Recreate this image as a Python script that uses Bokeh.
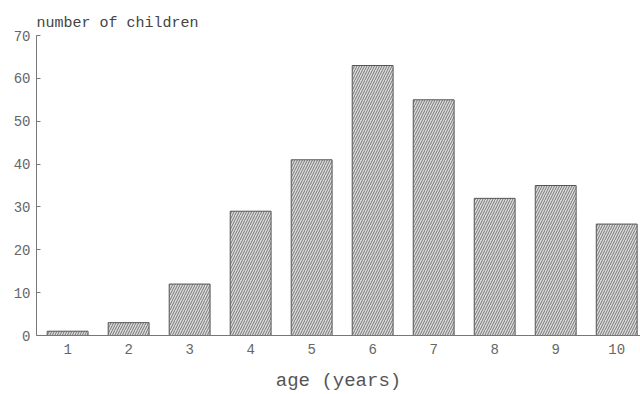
from bokeh.plotting import figure
from bokeh.models import FixedTicker, Range1d
from bokeh.embed import file_html
from bokeh.resources import INLINE

ages = [1, 2, 3, 4, 5, 6, 7, 8, 9, 10]
children = [1, 3, 12, 29, 41, 63, 55, 32, 35, 26]
y_ticks = [0, 10, 20, 30, 40, 50, 60, 70]

FONT = "Liberation Mono"

p = figure(width=640, height=394, output_backend="svg", toolbar_location=None,
           x_range=Range1d(0.49, 10.39), y_range=Range1d(0, 70),
           min_border_left=36, min_border_right=0, min_border_top=35, min_border_bottom=57,
           title="number of children")
p.title.text_font = FONT
p.title.text_font_size = "15px"
p.title.text_font_style = "normal"
p.title.text_color = "#444444"
p.title.align = "left"
p.title.offset = 0
p.title.standoff = 8

p.vbar(x=ages, top=children, width=0.67, bottom=0,
       fill_color="#dcdcdc", line_color="#555555", line_width=1,
       hatch_pattern="/", hatch_color="#6a6a6a", hatch_scale=5, hatch_weight=0.9)

p.outline_line_color = None
p.grid.visible = False
p.background_fill_color = "white"
p.border_fill_color = "white"

p.xaxis.ticker = FixedTicker(ticks=ages)
p.yaxis.ticker = FixedTicker(ticks=y_ticks)
p.xaxis.axis_label = "age (years)"
p.xaxis.axis_label_text_font = FONT
p.xaxis.axis_label_text_font_size = "19px"
p.xaxis.axis_label_text_font_style = "normal"
p.xaxis.axis_label_text_color = "#555555"
p.xaxis.axis_label_standoff = 13

for ax in (p.xaxis[0], p.yaxis[0]):
    ax.axis_line_color = "#777777"
    ax.major_tick_line_color = "#777777"
    ax.minor_tick_line_color = None
    ax.major_label_text_font = FONT
    ax.major_label_text_font_size = "14px"
    ax.major_label_text_color = "#666666"

p.xaxis.major_tick_in = 0
p.xaxis.major_tick_out = 0
p.xaxis.major_label_standoff = 8
p.yaxis.major_tick_in = 4
p.yaxis.major_tick_out = 0
p.yaxis.major_label_standoff = 6

open("out.html", "w").write(file_html(p, INLINE))
